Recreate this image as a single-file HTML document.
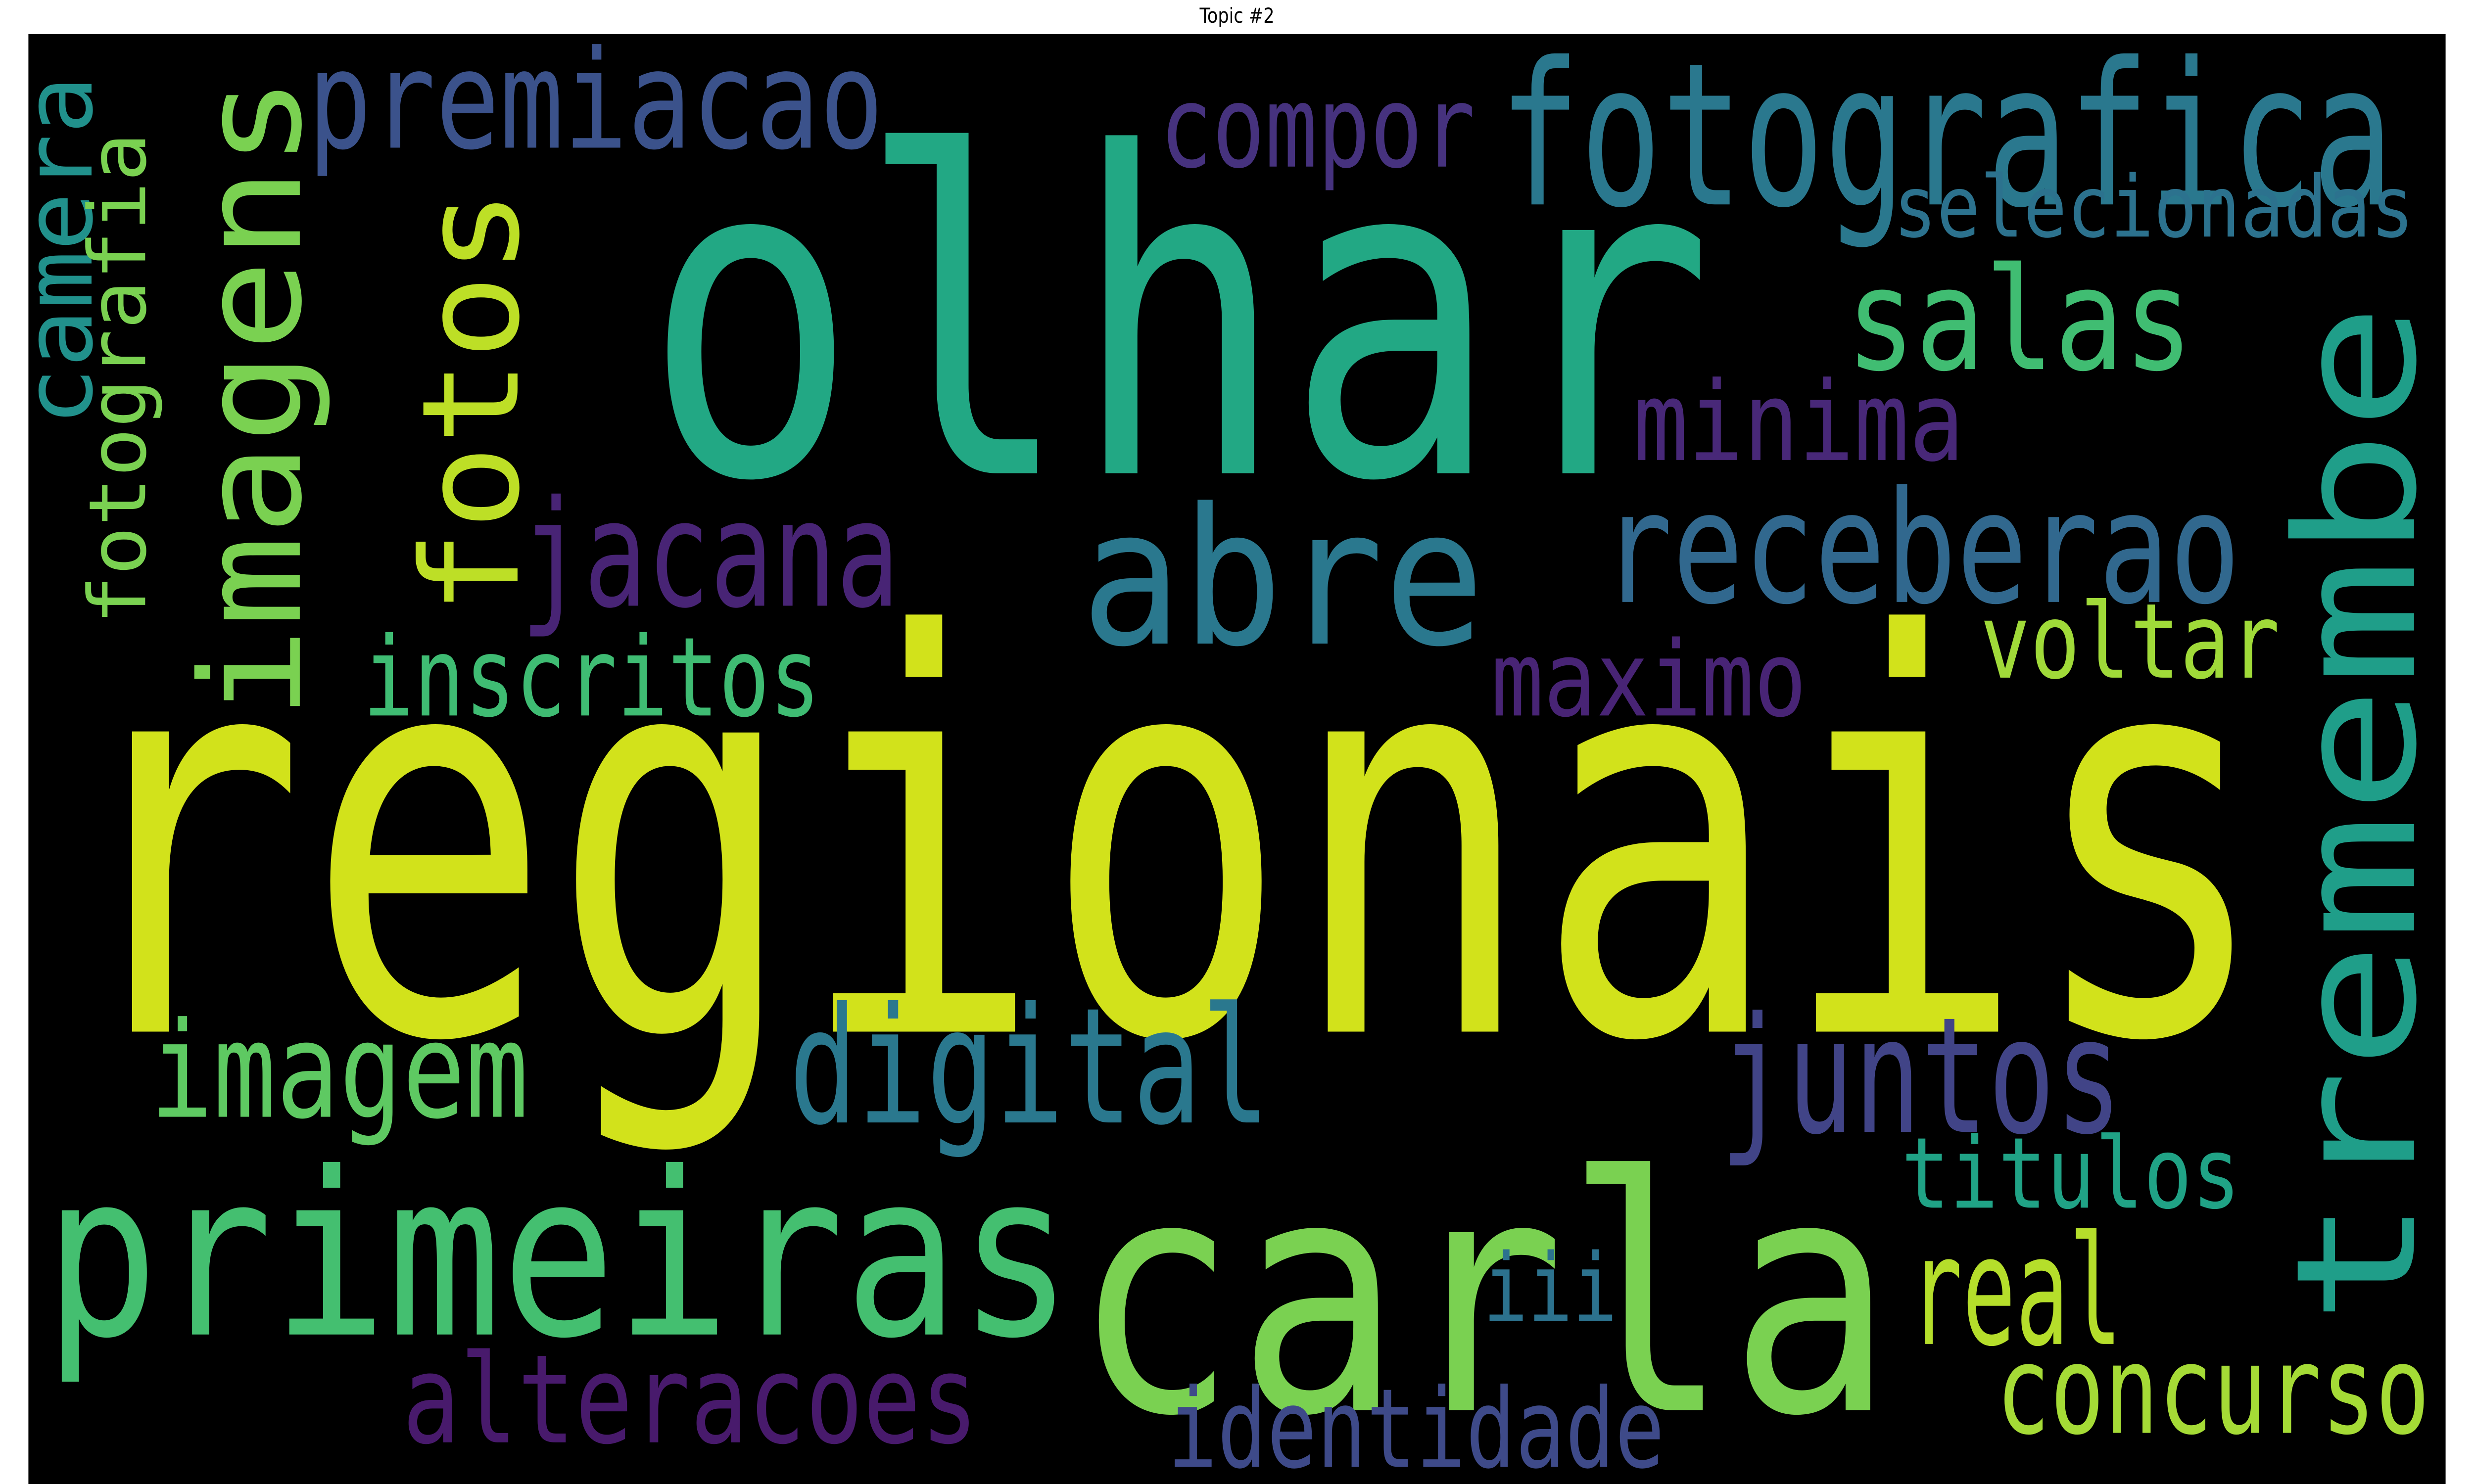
<!DOCTYPE html>
<html><head><meta charset="utf-8"><style>
html,body{margin:0;padding:0;background:#fff;width:100vw;height:100vh;overflow:hidden}
svg{display:block;width:100vw;height:100vh}
text{font-family:"DejaVu Sans Mono","Liberation Mono",monospace}
</style></head><body>
<svg viewBox="0 0 1568 784" preserveAspectRatio="none" xmlns="http://www.w3.org/2000/svg">
<rect x="0" y="0" width="1568" height="784" fill="#ffffff"/>
<text x="784" y="12" font-size="11" text-anchor="middle" fill="#000" style="font-family:'DejaVu Sans','Liberation Sans',sans-serif">Topic #2</text>
<rect x="18" y="18" width="1532" height="766" fill="#000"/>
<g id="words"></g>
</svg>
<script>
const words = ["regionais","olhar","carla","primeiras","tremembe","fotografica","abre","premiacao","imagens","fotos","compor","salas","selecionadas","camera","fotografia","jacana","minima","receberao","inscritos","maximo","voltar","imagem","digital","juntos","titulos","iii","real","alteracoes","identidade","concurso"];
const weights = [1.0,0.85,0.6,0.45,0.42,0.38,0.35,0.28,0.3,0.3,0.22,0.27,0.17,0.2,0.18,0.27,0.22,0.3,0.22,0.2,0.2,0.25,0.3,0.3,0.2,0.2,0.28,0.24,0.22,0.24];
// layout: x, y(baseline), size, length, rotated, color
const layout = [
[38,545,290,1402,0,"#d2e21b"],
[408,250,235,678,0,"#22a884"],
[680,745,172,520,0,"#7ad151"],
[28,705,120,652,0,"#44bf70"],
[1530,700,105,540,1,"#1f9e89"],
[950,108,105,567,0,"#2a788e"],
[685,340,100,256,0,"#2a788e"],
[195,78,72,365,0,"#3b528b"],
[190,380,88,340,1,"#7ad151"],
[328,325,85,225,1,"#bddf26"],
[735,88,60,200,0,"#46327e"],
[1170,195,75,220,0,"#40bd72"],
[1200,125,45,330,0,"#2c728e"],
[58,225,60,185,1,"#21918c"],
[92,330,50,260,1,"#7ad151"],
[330,320,78,240,0,"#482475"],
[1035,243,58,210,0,"#482878"],
[1015,318,82,405,0,"#31688e"],
[230,378,58,290,0,"#3fbc73"],
[945,378,55,200,0,"#482475"],
[1255,358,55,190,0,"#a0da39"],
[95,590,70,240,0,"#5ec962"],
[500,593,85,305,0,"#2a788e"],
[1090,598,85,255,0,"#414487"],
[1205,638,52,215,0,"#20a386"],
[940,698,50,85,0,"#2c728e"],
[1210,710,80,135,0,"#b5de2b"],
[255,762,65,365,0,"#481a6c"],
[740,775,58,315,0,"#3e4a89"],
[1265,757,65,275,0,"#a5db36"]
];
const g = document.getElementById('words');
const NS = "http://www.w3.org/2000/svg";
words.forEach((w,i)=>{
  const [x,y,s,len,rot,col] = layout[i];
  const t = document.createElementNS(NS,'text');
  
  
  t.setAttribute('font-size', s);
  t.setAttribute('fill', col);
  t.setAttribute('textLength', len);
  t.setAttribute('lengthAdjust', 'spacingAndGlyphs');
  t.setAttribute('data-weight', weights[i]);
  if (rot) { t.setAttribute('transform', `translate(${x},${y}) rotate(-90)`); t.setAttribute('x',0); t.setAttribute('y',0); }
  else { t.setAttribute('x', x); t.setAttribute('y', y); }
  t.textContent = w;
  g.appendChild(t);
});
</script>
</body></html>
